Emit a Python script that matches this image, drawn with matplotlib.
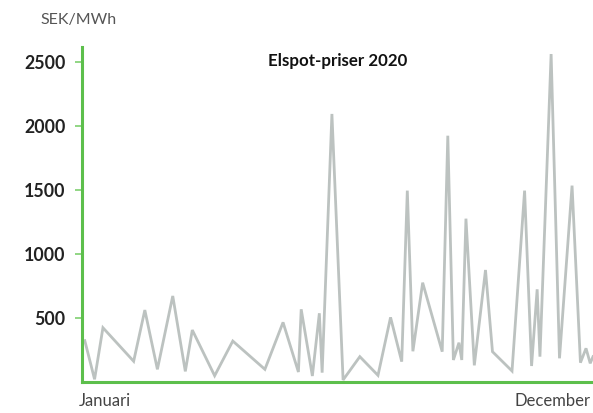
import matplotlib.pyplot as plt

# elspot prices 2020 (day of year, SEK/MWh)
days = [2, 9, 15, 37, 45, 54, 65, 74, 79, 95, 108, 131, 144, 155, 157, 165,
        170, 172, 179, 187, 199, 212, 221, 229, 233, 237, 244, 258, 262, 266,
        270, 272, 275, 281, 289, 294, 308, 317, 322, 326, 328, 336, 342, 351,
        357, 361, 364, 366]
prices = [323, 21, 424, 162, 562, 99, 672, 83, 406, 49, 320, 99, 466, 78, 568,
          47, 537, 73, 2094, 16, 198, 52, 505, 159, 1495, 240, 776, 237, 1924,
          172, 307, 172, 1276, 130, 875, 237, 86, 1495, 125, 724, 198, 2562,
          185, 1534, 151, 263, 146, 198]
yticks = [500, 1000, 1500, 2000, 2500]

green = '#5dbf4c'
plt.rcParams['font.family'] = ['Lato', 'DejaVu Sans']

fig = plt.figure(figsize=(5.93, 4.13), dpi=100)
W, H = 593, 413
ax = fig.add_axes([82 / W, (H - 382) / H, (593 - 82) / W, (382 - 47) / H])

ax.plot(days, prices, color='#bcc2c0', lw=2.0, solid_joinstyle='miter')
ax.set_xlim(0, 366)
ax.set_ylim(0, 2617)

for s in ['top', 'right']:
    ax.spines[s].set_visible(False)
for s in ['left', 'bottom']:
    ax.spines[s].set_color(green)
    ax.spines[s].set_linewidth(2.2)

ax.set_yticks(yticks)
ax.set_yticklabels([str(v) for v in yticks], fontsize=12.8, fontweight='bold', color='#222222')
ax.tick_params(axis='y', length=5, width=1.2, color='#7fcf70', pad=7)
ax.set_xticks([])

fig.text(40 / W, 1 - 20 / H, 'SEK/MWh', fontsize=11.5, color='#555555',
         ha='left', va='center')
fig.text(79 / W, 1 - 401 / H, 'Januari', fontsize=12, color='#444444',
         ha='left', va='center')
fig.text(591 / W, 1 - 401 / H, 'December', fontsize=12, color='#444444',
         ha='right', va='center')
fig.text(338 / W, 1 - 61 / H, 'Elspot-priser 2020', fontsize=12.2, color='#111111',
         ha='center', va='center', fontweight='bold')

fig.savefig('out.png', dpi=100)
